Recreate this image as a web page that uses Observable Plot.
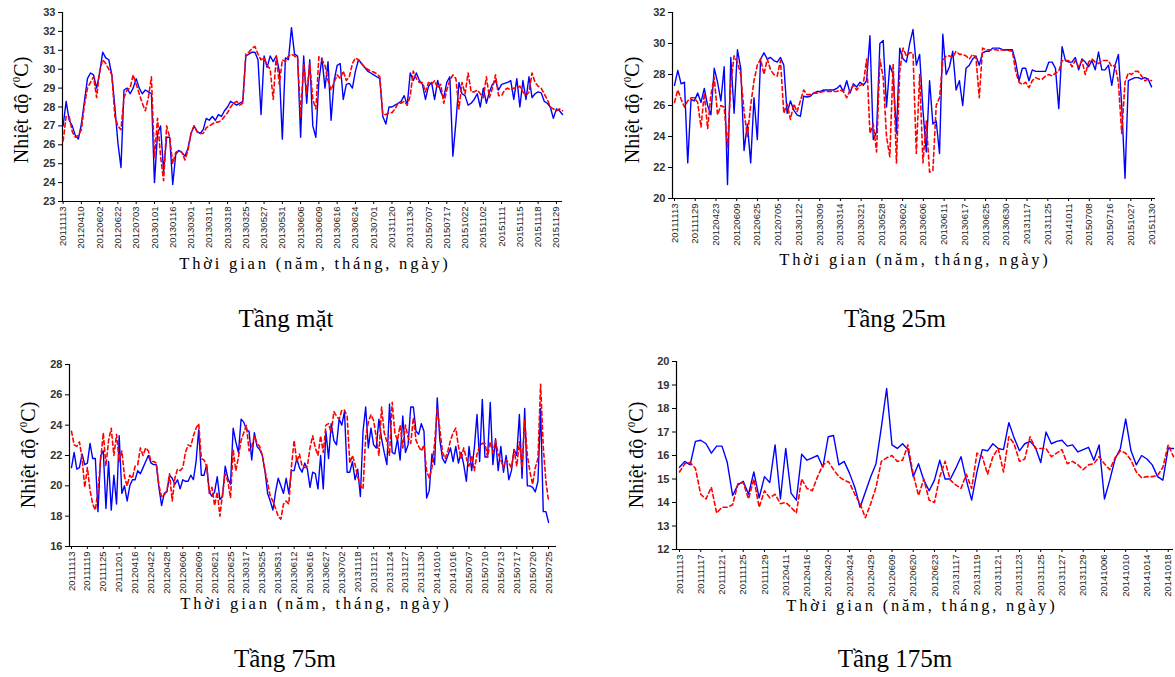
<!DOCTYPE html>
<html><head><meta charset="utf-8">
<script src="https://cdn.jsdelivr.net/npm/d3@7"></script>
<script src="https://cdn.jsdelivr.net/npm/@observablehq/plot@0.6"></script>
<style>
body{margin:0;background:#fff;}
#root{position:relative;width:1175px;height:677px;overflow:hidden;font-family:"Liberation Serif","Times New Roman",serif;color:#000;}
.panel{position:absolute;}
.ylab{position:absolute;transform:translate(-50%,-50%) rotate(-90deg);white-space:nowrap;font-size:20px;}
.ylab sup{font-size:11px;}
.xlab{position:absolute;transform:translate(-50%,-50%);white-space:nowrap;font-size:16.5px;letter-spacing:2.8px;}
.title{position:absolute;transform:translate(-50%,-50%);white-space:nowrap;font-size:25px;}
</style></head><body><div id="root"></div>
<script>
// ---------- Tầng mặt ----------
const surfaceDates = ["20111113","20120410","20120602","20120622","20120703","20130101","20130116","20130301","20130311","20130318","20130325","20130527","20130531","20130606","20130609","20130616","20130624","20130701","20131120","20131130","20150707","20150717","20151022","20151102","20151111","20151115","20151118","20151129"];
const surfaceBlue = [
27.0,28.3,27.3,27.0,26.5,26.3,27.1,28.3,29.5,29.8,
29.7,29.0,29.8,30.9,30.6,30.5,29.7,28.0,26.1,24.8,
28.9,29.0,28.7,29.0,29.5,29.0,28.7,28.9,28.8,28.7,
24.0,26.6,27.0,24.6,26.4,26.4,23.9,25.5,25.7,25.6,
25.4,25.8,26.6,27.0,26.7,26.6,26.8,27.4,27.3,27.5,
27.3,27.6,27.5,27.8,28.0,28.3,28.2,28.1,28.2,28.3,
30.7,30.8,30.9,30.9,30.5,27.6,30.7,30.1,30.7,30.4,
30.7,29.9,26.3,30.6,30.5,32.2,30.8,30.7,
26.4,30.7,28.2,30.5,27.0,26.4,29.4,30.6,29.0,30.4,
27.3,29.4,30.2,30.3,28.4,29.2,29.25,29.0,29.9,30.5,
30.3,30.1,29.9,29.8,29.7,29.6,29.5,27.5,27.1,28.0,
28.0,28.1,28.2,28.3,28.6,28.1,29.8,29.4,29.8,29.4,
29.2,28.4,29.1,29.3,28.4,29.4,28.8,28.5,29.3,29.6,
25.4,27.2,29.3,28.7,28.6,28.1,28.2,28.4,28.7,28.0,
29.0,28.2,28.8,29.2,29.4,28.9,29.2,29.25,29.3,29.4,
28.4,29.5,28.0,29.4,28.4,29.6,28.5,28.7,28.8,28.75,
28.3,28.2,28.0,27.4,27.9,27.8,27.6];
const surfaceRed = [
26.2,27.5,27.5,26.7,26.4,26.5,26.8,28.1,29.0,29.3,
29.6,28.5,29.9,30.5,30.3,30.0,29.7,27.5,27.0,26.8,
28.5,28.9,29.0,29.7,29.2,28.7,28.2,27.8,28.5,29.6,
25.3,27.4,25.4,24.1,27.0,26.4,25.0,25.6,25.7,25.6,
25.2,25.7,26.6,27.0,26.7,26.6,26.6,26.9,27.0,27.1,
27.2,27.2,27.3,27.5,27.7,28.0,28.2,28.3,28.1,28.2,
30.8,30.9,31.1,31.2,30.8,30.5,30.6,30.2,30.0,28.4,
30.7,29.2,30.5,30.4,30.7,30.8,30.7,30.6,
27.5,30.3,28.7,30.3,28.4,27.9,30.65,30.5,30.2,29.4,
28.9,29.3,29.7,29.5,29.9,29.4,29.6,30.3,30.6,30.5,
30.3,30.1,30.0,29.9,29.85,29.75,29.6,27.6,27.6,27.7,
27.7,27.9,28.2,28.2,28.3,28.1,28.6,29.9,29.5,29.3,
29.3,28.8,29.3,29.2,29.4,29.0,29.2,28.2,28.9,29.4,
29.7,29.5,27.9,29.3,28.7,29.8,28.8,28.8,28.9,28.7,
28.5,29.6,28.5,29.0,29.7,28.6,28.6,28.9,29.0,28.9,
29.0,29.0,29.1,28.8,28.6,28.8,29.8,29.3,29.1,29.0,
28.7,28.4,28.0,27.9,27.8,27.9,27.8];
const surfaceYTicks = [23,24,25,26,27,28,29,30,31,32,33];

// ---------- Tầng 25m ----------
const m25Dates = ["20111113","20111129","20120423","20120609","20120625","20120705","20130122","20130309","20130314","20130321","20130528","20130602","20130606","20130611","20130617","20130625","20130630","20131117","20131125","20141011","20150708","20150716","20151027","20151130"];
const m25Blue = [
27.3,28.27,27.4,27.5,22.3,26.4,26.3,26.8,26.2,27.1,
26.0,25.4,28.4,27.5,26.3,28.5,20.9,29.1,25.5,29.6,
28.4,23.1,24.8,22.3,26.5,23.8,29.0,29.4,29.0,29.1,
28.9,28.8,29.1,28.6,25.5,26.3,25.7,25.4,25.3,26.6,
26.55,26.6,26.8,26.9,26.9,27.0,27.0,27.0,27.0,27.1,
27.3,26.9,27.6,26.8,27.4,27.2,27.5,27.3,27.6,30.5,
23.8,24.3,
30.0,30.2,25.9,28.6,28.0,24.2,29.7,29.0,28.8,30.0,
30.9,28.6,29.3,25.7,23.0,27.6,24.8,25.0,22.9,30.6,
28.0,28.5,29.5,27.0,27.6,26.0,28.4,28.6,29.0,29.2,
28.6,29.4,29.5,29.5,29.7,29.7,29.7,29.6,29.6,29.6,
29.6,28.8,27.6,28.4,28.4,27.6,28.3,28.2,28.2,28.2,
28.2,28.8,28.8,28.4,25.8,29.8,28.9,28.8,28.8,29.1,
28.3,29.0,28.8,28.5,28.9,28.3,29.45,28.3,28.3,28.6,
27.3,28.6,29.3,26.0,21.3,27.6,27.7,27.8,27.8,27.7,
27.8,27.7,27.2];
const m25Red = [
26.2,27.0,26.4,25.9,26.3,26.5,26.5,26.2,24.6,26.8,
24.5,26.7,27.8,25.4,26.0,25.9,23.3,27.4,29.2,28.8,
28.0,25.6,24.0,26.0,27.6,28.6,29.0,28.0,29.0,28.3,
28.0,27.9,28.9,25.5,26.1,25.1,26.1,25.6,26.3,27.0,
26.7,26.7,26.8,26.8,26.85,26.9,26.9,26.9,26.9,26.9,
27.0,26.9,26.5,27.0,27.3,27.0,27.3,27.4,29.0,24.2,
24.8,23.0,
29.0,27.8,24.0,22.7,28.7,22.3,28.2,29.7,29.2,29.4,
29.4,22.9,28.0,22.3,25.0,21.7,21.8,26.0,26.5,28.9,
29.2,29.2,29.1,29.5,29.3,29.3,29.2,29.0,29.3,29.1,
26.5,29.7,29.6,29.6,29.6,29.6,29.55,29.6,29.55,29.55,
29.5,28.2,27.5,27.35,27.5,27.15,27.6,27.8,27.7,27.7,
27.9,28.0,27.9,28.1,28.2,28.9,28.9,28.9,28.5,28.9,
28.5,28.9,28.0,28.8,29.0,28.8,28.7,28.9,28.9,28.9,
28.5,28.6,27.5,24.2,27.5,28.1,28.0,28.2,28.2,27.9,
27.6,27.7,27.6];
const m25YTicks = [20,22,24,26,28,30,32];

// ---------- Tầng 75m ----------
const m75Dates = ["20111113","20111119","20111125","20111201","20120416","20120422","20120428","20120606","20120609","20120621","20120625","20130317","20130525","20130531","20130612","20130616","20130627","20130702","20131118","20131121","20131124","20131127","20131130","20141010","20141016","20150707","20150710","20150713","20150717","20150720","20150725"];
const m75Blue = [
21.2,22.2,21.1,21.2,22.1,21.4,21.5,22.8,21.8,21.8,
18.3,22.0,22.3,18.5,21.6,18.4,20.7,18.8,23.3,19.5,
20.0,19.0,20.0,20.4,20.4,21.0,20.8,21.2,21.6,22.0,
21.5,21.4,21.4,19.9,18.7,19.5,19.6,20.7,20.5,20.1,
20.4,19.8,20.4,20.3,20.3,20.7,20.4,21.6,23.7,20.7,
20.7,21.4,19.6,19.3,19.6,20.6,19.1,19.3,21.3,20.5,
20.1,23.8,22.9,22.2,24.4,24.2,23.7,23.6,21.7,23.5,
22.6,22.4,22.0,21.0,19.5,19.0,18.4,19.6,20.5,20.0,
19.5,20.5,19.5,21.0,21.0,21.8,21.2,
20.9,21.5,21.1,19.9,20.9,20.8,19.8,22.0,19.8,23.6,
21.8,24.1,23.0,22.7,24.4,24.0,24.9,20.9,20.9,21.6,
20.4,21.1,19.3,23.6,25.2,22.5,23.8,22.7,22.5,24.4,
23.1,22.2,21.4,25.4,22.2,22.1,23.1,21.7,24.6,22.2,
22.7,25.2,25.2,23.6,23.4,24.1,23.6,19.2,19.7,22.1,
21.4,25.8,23.0,21.8,21.5,22.0,22.5,21.6,22.6,21.5,
22.2,21.4,20.3,22.6,21.0,22.5,24.7,21.6,25.7,21.9,
21.9,25.5,21.4,23.1,21.0,22.6,20.9,22.0,20.4,21.0,
22.4,22.0,24.7,20.5,25.1,20.0,20.0,19.9,19.6,20.3,
25.1,18.3,18.3,17.6];
const m75Red = [
23.6,22.7,22.6,22.9,21.8,19.9,21.2,19.7,18.8,18.4,
19.7,21.7,23.5,21.3,23.0,23.8,22.0,23.4,21.6,22.3,
20.6,20.0,20.7,20.5,21.3,21.4,
22.5,22.0,22.5,22.3,21.6,21.6,21.5,20.0,19.3,19.4,19.7,20.8,19.0,20.5,21.1,21.0,21.2,
22.2,22.7,22.6,23.3,23.8,24.1,21.8,21.7,21.3,19.5,19.9,18.7,19.6,18.0,19.5,20.8,20.3,19.2,
22.4,21.0,21.9,23.0,23.5,24.0,22.3,22.6,23.3,22.8,22.6,22.0,21.0,20.2,19.3,19.0,18.5,
18.0,17.8,18.8,19.0,18.8,21.3,23.0,21.6,22.1,21.3,
21.2,21.3,22.5,23.3,22.5,22.0,23.3,22.2,24.0,24.1,
23.5,24.9,24.6,24.4,25.0,25.0,24.6,21.5,22.0,21.4,
20.6,20.0,19.8,23.2,24.2,24.7,24.3,23.2,22.0,25.2,
23.5,22.9,22.0,25.5,23.5,23.0,24.0,22.5,24.0,23.2,
22.8,24.5,23.0,22.6,22.3,22.7,21.0,20.5,21.2,22.8,
25.1,23.7,22.2,21.8,22.3,23.0,23.5,23.8,22.6,21.8,
22.5,21.8,21.3,22.0,21.0,22.1,22.6,22.8,22.8,21.9,
22.9,22.2,23.0,22.1,21.7,21.2,21.7,21.5,21.2,22.4,
21.3,22.9,21.2,24.3,22.0,20.9,20.1,21.2,21.8,26.7,
22.6,20.3,19.0];
const m75YTicks = [16,18,20,22,24,26,28];

// ---------- Tầng 175m ----------
const m175Dates = ["20111113","20111117","20111121","20111125","20111129","20120411","20120416","20120420","20120424","20120429","20120609","20120620","20120623","20131117","20131119","20131121","20131123","20131125","20131127","20131129","20141006","20141010","20141014","20141018"];
const m175Blue = [
15.5,15.75,15.6,16.6,16.65,16.5,16.1,16.4,16.4,15.7,
14.3,14.75,14.9,14.35,15.3,14.2,15.1,14.85,16.45,14.15,
16.3,14.4,14.1,16.05,15.8,15.9,16.0,15.5,16.8,16.85,
15.6,15.75,15.25,14.65,13.8,14.45,15.1,15.65,17.2,18.85,
16.45,16.3,16.5,
16.25,15.1,15.65,14.95,14.5,14.95,15.8,15.0,15.0,15.45,
15.95,14.95,14.1,15.3,16.25,16.2,16.5,16.3,16.25,17.4,
16.75,16.2,16.5,16.6,16.35,15.7,17.0,16.5,16.6,16.65,
16.4,16.45,16.15,16.25,16.35,15.8,16.45,14.15,14.95,15.85,
16.3,17.55,16.2,15.6,16.0,15.85,15.6,15.1,14.95,16.3,
16.3];
const m175Red = [
15.3,15.65,15.7,15.45,14.35,14.15,14.65,13.55,13.8,13.8,
13.9,14.8,14.85,14.15,15.0,13.8,14.5,14.2,14.35,13.95,
14.0,13.8,13.55,15.0,14.6,14.5,15.1,15.6,15.75,15.4,
15.1,14.95,14.85,14.35,13.95,13.35,13.95,14.65,15.75,15.9,
16.0,15.75,15.8,
16.45,15.2,14.3,15.0,14.1,14.0,15.1,15.75,14.95,14.75,
14.6,15.2,14.6,16.1,15.95,15.2,15.95,16.3,15.3,16.8,
16.5,15.75,15.85,16.8,16.3,16.3,16.3,15.95,16.1,16.25,
15.65,15.75,15.6,15.4,15.6,15.65,15.95,15.65,15.4,15.9,
16.2,16.1,15.8,15.3,15.05,15.1,15.1,15.15,15.5,16.45,
15.95];
const m175YTicks = [12,13,14,15,16,17,18,19,20];

const yLabelHTML = "Nhiệt độ (<sup>0</sup>C)";
const xLabelText = "Thời gian (năm, tháng, ngày)";

const root = document.getElementById("root");

function addDiv(cls, html, x, y) {
  const d = document.createElement("div");
  d.className = cls;
  d.innerHTML = html;
  d.style.left = x + "px";
  d.style.top = y + "px";
  root.appendChild(d);
}

function panel(cfg) {
  const blue = cfg.blue.map((v, i) => ({i, v}));
  const red = cfg.red.map((v, i) => ({i, v}));
  const n = cfg.dates.length;
  const pos = cfg.dates.map((d, k) => k * cfg.tickEnd / (n - 1));
  const lab = new Map(pos.map((p, k) => [p, cfg.dates[k]]));
  const [ymin, ymax] = [cfg.yTicks[0], cfg.yTicks[cfg.yTicks.length - 1]];
  const chart = Plot.plot({
    width: cfg.width, height: cfg.height,
    marginLeft: cfg.ml, marginRight: cfg.mr, marginTop: cfg.mt, marginBottom: cfg.mb,
    style: {fontFamily: "'Liberation Sans', Arial, sans-serif", background: "transparent", color: "#000", overflow: "visible"},
    x: {domain: cfg.xDomain},
    y: {domain: [ymin, ymax]},
    marks: [
      Plot.axisY({ticks: cfg.yTicks, tickSize: 4, tickPadding: 3, fontSize: 11, fontWeight: "bold", fill: "#333", label: null}),
      Plot.axisX({ticks: pos, tickFormat: d => lab.get(d), tickRotate: -90, tickSize: 3, tickPadding: 2, fontSize: 9.5, fill: "#222", label: null}),
      Plot.ruleX([cfg.xDomain[0]], {stroke: "#000", strokeWidth: 1.2}),
      Plot.ruleY([ymin], {stroke: "#000", strokeWidth: 1.2}),
      Plot.line(blue, {x: "i", y: "v", stroke: "#0000ff", strokeWidth: 1.4}),
      Plot.line(red, {x: "i", y: "v", stroke: "#ff0000", strokeWidth: 1.6, strokeDasharray: "4,3"})
    ]
  });
  chart.classList.add("panel");
  chart.style.left = cfg.left + "px";
  chart.style.top = cfg.top + "px";
  root.appendChild(chart);
  addDiv("ylab", yLabelHTML, cfg.yl[0], cfg.yl[1]);
  addDiv("xlab", xLabelText, cfg.xl[0], cfg.xl[1]);
  addDiv("title", cfg.title, cfg.tl[0], cfg.tl[1]);
}

panel({title: "Tầng mặt", dates: surfaceDates, blue: surfaceBlue, red: surfaceRed, yTicks: surfaceYTicks,
  tickEnd: 162, xDomain: [-0.2, 164], left: 0, top: 0, width: 580, height: 260, ml: 62, mr: 18, mt: 12, mb: 59,
  yl: [21, 110], xl: [315, 264], tl: [286, 319]});
panel({title: "Tầng 25m", dates: m25Dates, blue: m25Blue, red: m25Red, yTicks: m25YTicks,
  tickEnd: 144, xDomain: [-0.6, 145.2], left: 590, top: 0, width: 585, height: 260, ml: 82, mr: 20, mt: 12, mb: 62,
  yl: [632, 110], xl: [915, 260], tl: [895, 319]});
panel({title: "Tầng 75m", dates: m75Dates, blue: m75Blue, red: m75Red, yTicks: m75YTicks,
  tickEnd: 180, xDomain: [-0.75, 183], left: 0, top: 340, width: 580, height: 260, ml: 69, mr: 24, mt: 24, mb: 54,
  yl: [28, 455], xl: [316, 604], tl: [285, 659]});
panel({title: "Tầng 175m", dates: m175Dates, blue: m175Blue, red: m175Red, yTicks: m175YTicks,
  tickEnd: 92, xDomain: [-0.56, 93], left: 590, top: 340, width: 585, height: 260, ml: 86, mr: 2, mt: 21, mb: 51,
  yl: [636, 455], xl: [922, 606], tl: [895, 659]});
</script>
</body></html>
